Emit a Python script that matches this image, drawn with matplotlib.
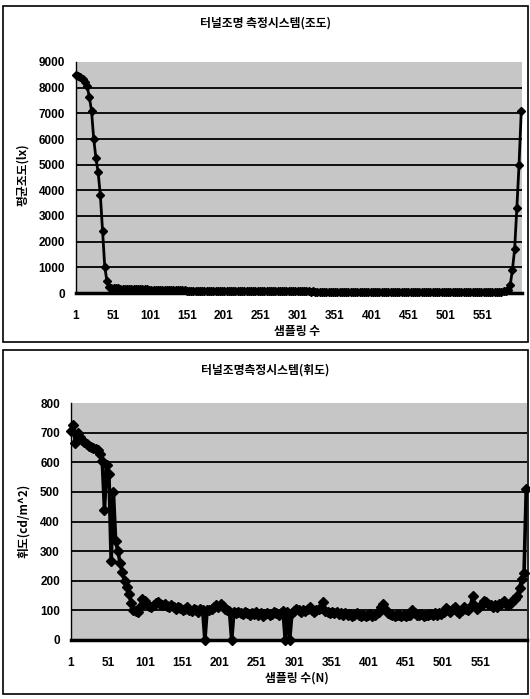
import numpy as np
import matplotlib
matplotlib.use("Agg")
import matplotlib.pyplot as plt
from matplotlib.patches import Rectangle

KFONT = ["Noto Sans CJK KR", "DejaVu Sans"]

# --- data (every 3rd sample) ---
lux_samples = np.arange(1, 605, 3)
lux_values = [
    8500, 8450, 8400, 8330, 8220, 8050, 7650, 7100, 6000, 5250,
    4700, 3800, 2400, 1000, 450, 220, 200, 190, 185, 180,
    175, 172, 168, 165, 160, 158, 155, 150, 148, 145,
    142, 140, 138, 135, 132, 130, 128, 125, 122, 120,
    118, 115, 112, 110, 108, 106, 104, 102, 100, 98,
    96, 95, 94, 92, 90, 89, 88, 87, 86, 85,
    84, 83, 82, 81, 80, 80, 79, 78, 78, 77,
    76, 76, 75, 75, 74, 74, 73, 73, 72, 72,
    71, 70, 72, 69, 70, 68, 69, 67, 68, 66,
    67, 65, 66, 64, 65, 63, 64, 62, 63, 62,
    61, 62, 60, 61, 59, 60, 58, 59, 58, 57,
    58, 56, 57, 55, 56, 55, 54, 55, 53, 54,
    53, 52, 53, 51, 52, 50, 51, 50, 49, 50,
    49, 48, 50, 48, 47, 48, 46, 47, 46, 45,
    46, 45, 44, 45, 43, 44, 42, 43, 42, 41,
    42, 41, 40, 41, 40, 39, 40, 39, 38, 39,
    38, 39, 37, 38, 37, 36, 37, 36, 37, 36,
    37, 38, 36, 38, 39, 40, 39, 41, 40, 42,
    41, 43, 42, 44, 45, 44, 46, 47, 48, 50,
    52, 55, 58, 62, 70, 120, 300, 900, 1700, 3300,
    5000, 7100,
]

lum_samples = np.arange(1, 614, 3)
lum_values = [
    705, 725, 665, 700, 685, 675, 668, 660, 655, 650,
    648, 645, 640, 628, 605, 440, 590, 560, 265, 500,
    335, 300, 260, 230, 200, 180, 155, 125, 102, 98,
    96, 110, 138, 130, 120, 115, 112, 118, 125, 128,
    122, 118, 120, 115, 112, 118, 110, 105, 112, 108,
    100, 105, 110, 102, 98, 106, 100, 96, 104, 100,
    0, 102, 100, 106, 110, 118, 112, 122, 115, 105,
    100, 98, 0, 95, 92, 96, 90, 88, 94, 90,
    85, 92, 88, 95, 86, 90, 82, 88, 92, 85,
    88, 95, 90, 86, 92, 98, 0, 95, 0, 92,
    98, 105, 100, 95, 102, 98, 105, 110, 100, 96,
    102, 105, 108, 128, 98, 95, 92, 96, 90, 94,
    88, 92, 86, 90, 84, 88, 82, 86, 90, 85,
    82, 86, 80, 84, 88, 82, 86, 90, 95, 110,
    122, 100, 92, 88, 85, 82, 86, 84, 80, 85,
    82, 86, 84, 100, 92, 86, 84, 88, 82, 85,
    86, 88, 84, 90, 86, 92, 88, 96, 108, 100,
    95, 105, 110, 98, 92, 100, 110, 106, 100, 112,
    150, 115, 105, 112, 118, 130, 128, 122, 118, 110,
    118, 112, 120, 125, 130, 122, 118, 125, 135, 140,
    150, 175, 205, 225, 510,
]

x_ticks = [1, 51, 101, 151, 201, 251, 301, 351, 401, 451, 501, 551]
lux_yticks = [0, 1000, 2000, 3000, 4000, 5000, 6000, 7000, 8000, 9000]
lum_yticks = [0, 100, 200, 300, 400, 500, 600, 700, 800]

titles = ["터널조명 측정시스템(조도)", "터널조명측정시스템(휘도)"]
ylabels = ["평균조도(lx)", "휘도(cd/m^2)"]
xlabels = ["샘플링 수", "샘플링 수(N)"]


def draw_panel(ax, xs, ys, xmax, yticks, lw, ms):
    ax.set_facecolor("#c6c6c6")
    for t in yticks[1:-1]:
        ax.axhline(t, color="black", lw=1.3, zorder=1)
    ax.plot(xs, ys, color="black", lw=lw, marker="D", ms=ms,
            mec="black", mfc="black", zorder=3, clip_on=False)
    ax.set_xlim(1, xmax)
    ax.set_ylim(yticks[0], yticks[-1])
    ax.set_xticks(x_ticks)
    ax.set_yticks(yticks)
    ax.tick_params(axis="x", length=0, pad=12)
    ax.tick_params(axis="y", length=0, pad=8)
    for lab in ax.get_xticklabels() + ax.get_yticklabels():
        lab.set_fontfamily("Liberation Sans")
        lab.set_fontweight("bold")
        lab.set_fontsize(8.5)
    for side in ["top", "right"]:
        ax.spines[side].set_visible(False)
    ax.spines["left"].set_linewidth(1.0)
    ax.spines["bottom"].set_linewidth(2.5)


fig = plt.figure(figsize=(5.3, 6.99), dpi=100)

# panel frames
fig.add_artist(Rectangle((3 / 530, 1 - 342 / 699), 525 / 530, 336 / 699,
                         transform=fig.transFigure, fill=False, lw=1.2, ec="black"))
fig.add_artist(Rectangle((3 / 530, 1 - 694 / 699), 525 / 530, 344 / 699,
                         transform=fig.transFigure, fill=False, lw=1.2, ec="black"))

ax1 = fig.add_axes([76 / 530, 1 - 293 / 699, 446 / 530, 231 / 699])
draw_panel(ax1, lux_samples, lux_values, 605, lux_yticks, 2.0, 4.0)

ax2 = fig.add_axes([71 / 530, 1 - 640 / 699, 456 / 530, 237 / 699])
draw_panel(ax2, lum_samples, lum_values, 614, lum_yticks, 2.6, 5.0)

fig.text(0.5, 1 - 23 / 699, titles[0], family=KFONT, fontsize=8.5,
         fontweight="bold", ha="center", va="center")
fig.text(0.5, 1 - 370 / 699, titles[1], family=KFONT, fontsize=8.5,
         fontweight="bold", ha="center", va="center")

fig.text(23 / 530, 1 - 175 / 699, ylabels[0], family=KFONT, fontsize=8.5,
         fontweight="bold", rotation=90, ha="center", va="center")
fig.text(23 / 530, 1 - 521 / 699, ylabels[1], family=KFONT, fontsize=8.5,
         fontweight="bold", rotation=90, ha="center", va="center")

fig.text(297 / 530, 1 - 332 / 699, xlabels[0], family=KFONT, fontsize=8.5,
         fontweight="bold", ha="center", va="center")
fig.text(297 / 530, 1 - 678 / 699, xlabels[1], family=KFONT, fontsize=8.5,
         fontweight="bold", ha="center", va="center")

fig.savefig("out.png", dpi=100)
